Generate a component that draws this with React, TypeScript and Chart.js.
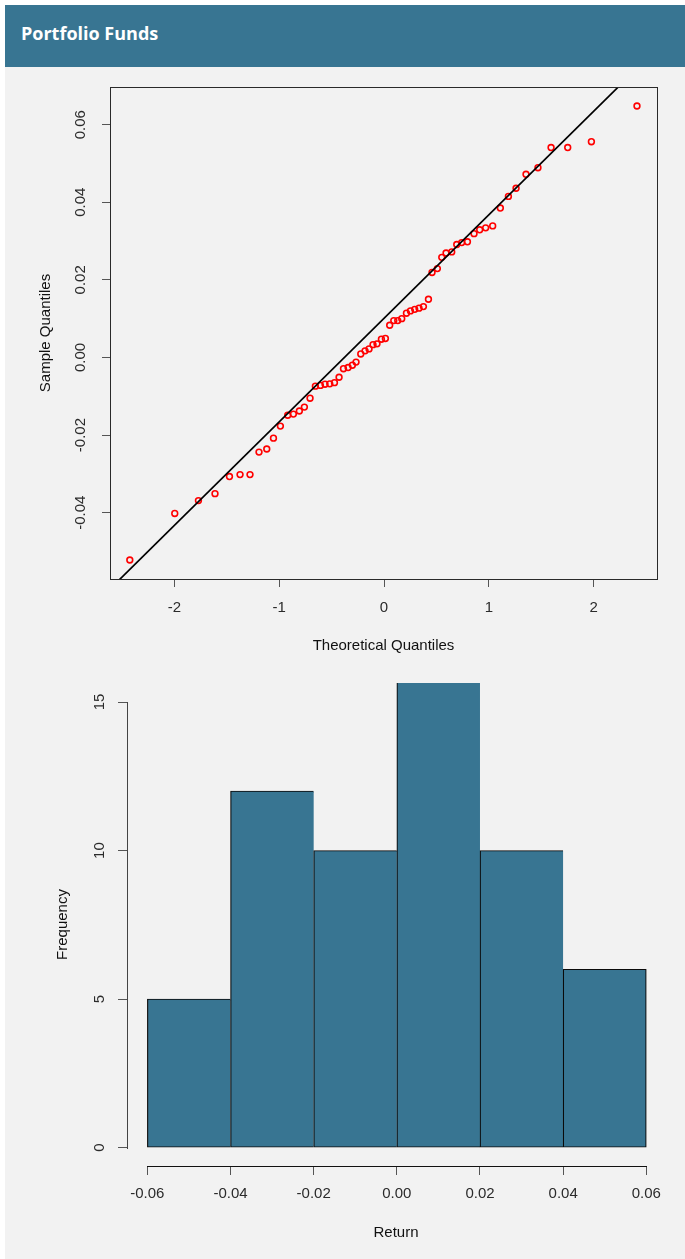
import React, { useEffect, useRef } from "react";
import { Chart, registerables } from "chart.js";

Chart.register(...registerables);

const BLUE = "#387592";
const PANEL = "#f2f2f2";
const AXIS_FONT = "'Liberation Sans', Arial, Helvetica, sans-serif";

const pageTitle = "Portfolio Funds";

// ---- Normal Q-Q plot ----
const qqTheoretical = [
  -2.426, -1.997, -1.771, -1.613, -1.475, -1.374, -1.279, -1.193, -1.119, -1.055,
  -0.989, -0.919, -0.865, -0.808, -0.76, -0.706, -0.655, -0.607, -0.563, -0.518,
  -0.473, -0.429, -0.387, -0.343, -0.302, -0.267, -0.222, -0.181, -0.143, -0.105,
  -0.067, -0.025, 0.013, 0.054, 0.093, 0.131, 0.169, 0.214, 0.252, 0.293,
  0.334, 0.376, 0.424, 0.458, 0.509, 0.551, 0.592, 0.646, 0.694, 0.741,
  0.796, 0.859, 0.913, 0.97, 1.037, 1.11, 1.187, 1.26, 1.355, 1.469,
  1.594, 1.753, 1.979, 2.414,
];
const qqSample = [
  -0.0522, -0.0402, -0.0369, -0.0351, -0.0307, -0.0302, -0.0302, -0.0244, -0.0236, -0.0208,
  -0.0177, -0.0149, -0.0146, -0.0138, -0.0128, -0.0105, -0.0074, -0.0072, -0.0069, -0.0068,
  -0.0065, -0.0051, -0.0029, -0.0026, -0.002, -0.0012, 0.0009, 0.0017, 0.0022, 0.0033,
  0.0035, 0.0047, 0.0049, 0.0083, 0.0095, 0.0095, 0.01, 0.0114, 0.012, 0.0124,
  0.0127, 0.0131, 0.015, 0.0219, 0.0229, 0.0258, 0.0269, 0.0272, 0.0291, 0.0296,
  0.0298, 0.0319, 0.0329, 0.0334, 0.0339, 0.0385, 0.0415, 0.0436, 0.0472, 0.0489,
  0.0541, 0.0541, 0.0556, 0.0648,
];
const qqLineX = [-2.62, 2.61];
const qqLineY = [-0.0598, 0.0797];
const qqXTicks = [-2, -1, 0, 1, 2];
const qqYTicks = [-0.04, -0.02, 0, 0.02, 0.04, 0.06];
const qqXTitle = "Theoretical Quantiles";
const qqYTitle = "Sample Quantiles";

// ---- Histogram ----
const histBinMids = [-0.05, -0.03, -0.01, 0.01, 0.03, 0.05];
const histCounts = [5, 12, 10, 16, 10, 6];
const histXTicks = [-0.06, -0.04, -0.02, 0, 0.02, 0.04, 0.06];
const histYTicks = [0, 5, 10, 15];
const histXTitle = "Return";
const histYTitle = "Frequency";

const boxPlugin = {
  id: "rBox",
  afterDatasetsDraw(chart: any) {
    const { ctx, chartArea: a } = chart;
    ctx.save();
    ctx.strokeStyle = "#2a2a2a";
    ctx.lineWidth = 1;
    const l = Math.round(a.left), t = Math.round(a.top), r = Math.round(a.right), b = Math.round(a.bottom);
    ctx.strokeRect(l + 0.5, t + 0.5, r - l, b - t);
    ctx.restore();
  },
};

const rAxisLines = {
  id: "rAxisLines",
  afterDraw(chart: any) {
    const { ctx, chartArea: a, scales } = chart;
    const xs = scales.x;
    const ys = scales.y;
    const xt = xs.ticks;
    const yt = ys.ticks;
    const x0 = Math.round(xs.getPixelForValue(xt[0].value));
    const x1 = Math.round(xs.getPixelForValue(xt[xt.length - 1].value));
    const y0 = Math.round(ys.getPixelForValue(yt[0].value));
    const y1 = Math.round(ys.getPixelForValue(yt[yt.length - 1].value));
    ctx.save();
    ctx.lineWidth = 1;
    ctx.strokeStyle = "#111";
    ctx.beginPath();
    const by = Math.round(a.bottom) + 0.5;
    ctx.moveTo(x0, by);
    ctx.lineTo(x1 + 1, by);
    ctx.stroke();
    ctx.strokeStyle = "#444";
    ctx.beginPath();
    const lx = Math.round(a.left) + 0.5;
    ctx.moveTo(lx, y0 + 1);
    ctx.lineTo(lx, y1);
    ctx.stroke();
    ctx.restore();
  },
};

export default function App() {
  const qqRef = useRef<HTMLCanvasElement>(null);
  const histRef = useRef<HTMLCanvasElement>(null);

  useEffect(() => {
    Chart.defaults.font.family = AXIS_FONT;
    const font = { family: AXIS_FONT, size: 15 };
    const tickColor = "#2b2b2b";
    const markColor = "#555";

    const qq = new Chart(qqRef.current as HTMLCanvasElement, {
      type: "scatter",
      data: {
        datasets: [
          {
            type: "line",
            data: qqLineX.map((x, i) => ({ x, y: qqLineY[i] })),
            borderColor: "#000",
            borderWidth: 1.7,
            pointRadius: 0,
            showLine: true,
            fill: false,
            tension: 0,
            clip: 0,
          } as any,
          {
            type: "scatter",
            data: qqTheoretical.map((x, i) => ({ x, y: qqSample[i] })),
            borderColor: "#ff0000",
            backgroundColor: "rgba(0,0,0,0)",
            pointRadius: 2.9,
            pointHoverRadius: 2.9,
            borderWidth: 1.6,
          } as any,
        ],
      },
      options: {
        responsive: false,
        maintainAspectRatio: false,
        animation: false,
        events: [],
        layout: { padding: { top: 20, right: 28, bottom: 0, left: 0 } },
        plugins: { legend: { display: false }, tooltip: { enabled: false } },
        scales: {
          x: {
            type: "linear",
            position: "bottom",
            min: -2.615,
            max: 2.605,
            bounds: "data",
            afterBuildTicks: (s: any) => {
              s.ticks = qqXTicks.map((v) => ({ value: v }));
            },
            afterFit: (s: any) => {
              s.height = 88;
              s.paddingLeft = 0;
              s.paddingRight = 0;
            },
            grid: { display: true, drawOnChartArea: false, drawTicks: true, tickLength: 8, tickColor: markColor, color: markColor },
            border: { display: false },
            ticks: { autoSkip: false, padding: 12, color: tickColor, font, minRotation: 0, maxRotation: 0, callback: (v: any) => String(v) },
            title: { display: true, text: qqXTitle, color: "#111", font, padding: { top: 0, bottom: 12 } },
          },
          y: {
            type: "linear",
            position: "left",
            min: -0.0571,
            max: 0.0697,
            bounds: "data",
            afterBuildTicks: (s: any) => {
              s.ticks = qqYTicks.map((v) => ({ value: v }));
            },
            afterFit: (s: any) => {
              s.width = 110;
              s.paddingTop = 0;
              s.paddingBottom = 0;
            },
            grid: { display: true, drawOnChartArea: false, drawTicks: true, tickLength: 8, tickColor: markColor, color: markColor },
            border: { display: false },
            ticks: { autoSkip: false, padding: 4, crossAlign: "center", color: tickColor, font, minRotation: 90, maxRotation: 90, callback: (v: any) => Number(v).toFixed(2) },
            title: { display: true, text: qqYTitle, color: "#111", font, padding: { top: 37, bottom: 0 } },
          },
        },
      } as any,
      plugins: [boxPlugin],
    });

    const hist = new Chart(histRef.current as HTMLCanvasElement, {
      type: "bar",
      data: {
        datasets: [
          {
            data: histBinMids.map((x, i) => ({ x, y: histCounts[i] })),
            backgroundColor: BLUE,
            borderColor: "#0a0a0a",
            borderWidth: (c: any) => ({
              top: 1,
              left: 1.2,
              bottom: 1,
              right: c.dataIndex === histCounts.length - 1 ? 1.2 : 0,
            }),
            borderSkipped: false,
            barPercentage: 1,
            categoryPercentage: 1,
            clip: 0,
          } as any,
        ],
      },
      options: {
        responsive: false,
        maintainAspectRatio: false,
        animation: false,
        events: [],
        layout: { padding: { top: 16, right: 20, bottom: 0, left: 0 } },
        plugins: { legend: { display: false }, tooltip: { enabled: false } },
        scales: {
          x: {
            type: "linear",
            position: "bottom",
            min: -0.0649,
            max: 0.0645,
            bounds: "data",
            offset: false,
            afterBuildTicks: (s: any) => {
              s.ticks = histXTicks.map((v) => ({ value: v }));
            },
            afterFit: (s: any) => {
              s.height = 93;
              s.paddingLeft = 0;
              s.paddingRight = 0;
            },
            grid: { display: true, offset: false, drawOnChartArea: false, drawTicks: true, tickLength: 9, tickColor: markColor, color: markColor },
            border: { display: false },
            ticks: { autoSkip: false, padding: 10, color: tickColor, font, minRotation: 0, maxRotation: 0, callback: (v: any) => Number(v).toFixed(2) },
            title: { display: true, text: histXTitle, color: "#111", font, padding: { top: 0, bottom: 17 } },
          },
          y: {
            type: "linear",
            position: "left",
            min: -0.616,
            max: 15.64,
            bounds: "data",
            beginAtZero: false,
            afterBuildTicks: (s: any) => {
              s.ticks = histYTicks.map((v) => ({ value: v }));
            },
            afterFit: (s: any) => {
              s.width = 127;
              s.paddingTop = 0;
              s.paddingBottom = 0;
            },
            grid: { display: true, drawOnChartArea: false, drawTicks: true, tickLength: 9, tickColor: markColor, color: markColor },
            border: { display: false },
            ticks: { autoSkip: false, padding: 10, crossAlign: "center", color: tickColor, font, minRotation: 90, maxRotation: 90, callback: (v: any) => String(v) },
            title: { display: true, text: histYTitle, color: "#111", font, padding: { top: 54, bottom: 0 } },
          },
        },
      } as any,
      plugins: [rAxisLines],
    });

    return () => {
      qq.destroy();
      hist.destroy();
    };
  }, []);

  return (
    <div style={{ position: "absolute", left: 0, top: 0, width: 685, height: 1259, background: "#fff", overflow: "hidden" }}>
      <div style={{ position: "absolute", left: 5, top: 5, width: 680, height: 62, background: BLUE }} />
      <div
        style={{
          position: "absolute",
          left: 21,
          top: 21,
          fontFamily: "'Open Sans', 'Noto Sans', sans-serif",
          fontWeight: 700,
          fontSize: 18,
          lineHeight: "24px",
          color: "#fff",
          whiteSpace: "nowrap",
        }}
      >
        {pageTitle}
      </div>
      <div style={{ position: "absolute", left: 5, top: 67, width: 680, height: 1192, background: PANEL }} />
      <canvas ref={qqRef} width={685} height={600} style={{ position: "absolute", left: 0, top: 67, width: 685, height: 600 }} />
      <canvas ref={histRef} width={685} height={592} style={{ position: "absolute", left: 0, top: 667, width: 685, height: 592 }} />
    </div>
  );
}
